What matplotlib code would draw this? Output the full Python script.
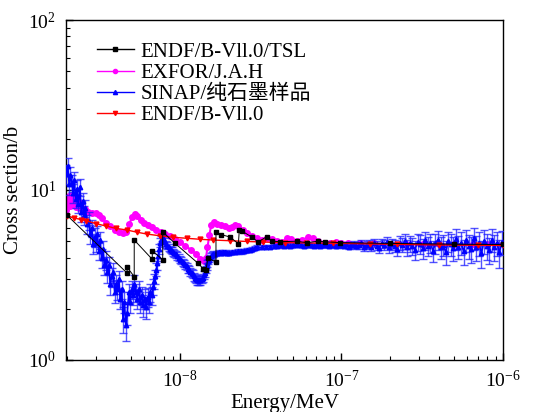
import matplotlib
matplotlib.use("Agg")
import matplotlib.pyplot as plt
from matplotlib.lines import Line2D
from matplotlib.ticker import LogLocator, NullFormatter

plt.rcParams['font.family'] = ['Liberation Serif', 'Noto Sans CJK SC', 'DejaVu Sans']
plt.rcParams['mathtext.fontset'] = 'stix'

# ---------------- data ----------------
labels = ['ENDF/B-Vll.0/TSL', 'EXFOR/J.A.H', 'SINAP/纯石墨样品', 'ENDF/B-Vll.0']

# ENDF/B-VII.0 with TSL (black sawtooth)
tsl_E = [2.0e-9, 4.70e-9, 4.72e-9, 5.21e-9, 5.21e-9, 6.74e-9, 6.74e-9, 7.82e-9, 7.82e-9,
         9.31e-9, 1.297e-8, 1.393e-8, 1.449e-8, 1.49e-8, 1.671e-8, 1.671e-8, 1.795e-8,
         2.04e-8, 2.30e-8, 2.33e-8, 2.41e-8, 2.78e-8, 3.05e-8, 3.44e-8, 3.70e-8, 4.16e-8,
         5.28e-8, 6.09e-8, 7.18e-8, 7.9e-8, 9.8e-8, 2.0e-7, 5.0e-7, 1.0e-6]
tsl_s = [7.1, 3.25, 3.51, 3.09, 5.08, 3.91, 4.40, 3.88, 5.66,
         4.86, 3.70, 3.44, 3.38, 3.98, 3.77, 5.66, 5.47,
         5.29, 4.83, 5.79, 5.75, 5.29, 4.95, 5.31, 5.01, 4.96,
         5.0, 4.90, 5.0, 4.96, 4.90, 4.85, 4.80, 4.78]

# EXFOR / J.A.H (magenta)
exfor_E = [1.97e-9, 2.02e-9, 2.06e-9, 2.10e-9, 2.14e-9, 2.18e-9, 2.22e-9, 2.27e-9, 2.32e-9,
           2.37e-9, 2.43e-9, 2.5e-9, 2.58e-9, 2.7e-9, 2.85e-9, 3.0e-9, 3.15e-9, 3.3e-9,
           3.5e-9, 3.7e-9, 3.95e-9, 4.2e-9, 4.45e-9, 4.65e-9, 4.85e-9, 5.05e-9, 5.25e-9,
           5.45e-9, 5.7e-9, 6.0e-9, 6.3e-9, 6.7e-9, 7.1e-9, 7.6e-9, 8.1e-9, 8.7e-9, 9.3e-9,
           1.0e-8, 1.08e-8, 1.17e-8, 1.26e-8, 1.34e-8, 1.4e-8, 1.45e-8, 1.48e-8, 1.52e-8,
           1.56e-8, 1.62e-8, 1.7e-8, 1.8e-8, 1.9e-8, 2.0e-8, 2.1e-8, 2.2e-8, 2.3e-8, 2.45e-8,
           2.6e-8, 2.8e-8, 3.0e-8, 3.2e-8, 3.45e-8, 3.7e-8, 4.0e-8, 4.3e-8, 4.6e-8, 4.9e-8,
           5.3e-8, 5.7e-8, 6.2e-8, 6.7e-8, 7.2e-8, 7.8e-8, 8.5e-8, 9.2e-8, 1.0e-7, 1.1e-7,
           1.3e-7, 1.6e-7, 2.0e-7, 2.5e-7, 3.2e-7, 4.0e-7, 5.0e-7, 6.5e-7, 8.0e-7, 1.0e-6]
exfor_s = [7.6, 8.6, 9.2, 8.0, 9.3, 8.2, 8.9, 7.9, 8.7,
           7.8, 8.4, 7.6, 7.7, 7.4, 7.3, 7.35, 7.1, 6.8,
           6.4, 6.1, 5.85, 5.7, 5.55, 5.7, 6.3, 6.9, 7.25,
           7.0, 6.7, 6.4, 6.2, 6.05, 5.85, 5.65, 5.5, 5.35, 5.15,
           4.95, 4.7, 4.45, 4.2, 3.95, 3.8, 4.0, 4.6, 5.4,
           6.2, 6.5, 6.3, 6.2, 6.1, 6.0, 6.05, 6.2, 6.1, 5.85,
           5.6, 5.35, 5.2, 5.1, 5.2, 5.15, 5.0, 4.95, 5.2, 5.15,
           5.0, 5.05, 5.3, 5.2, 5.0, 4.9, 4.85, 4.95, 4.9, 4.9,
           4.85, 4.85, 4.8, 4.8, 4.8, 4.78, 4.78, 4.78, 4.8, 4.8]

# SINAP pure graphite sample (blue, with error bars)
sinap_E = [
    # low-energy noisy region
    1.98e-9, 2.02e-9, 2.06e-9, 2.10e-9, 2.14e-9, 2.18e-9, 2.22e-9, 2.26e-9, 2.30e-9, 2.35e-9,
    2.40e-9, 2.45e-9, 2.50e-9, 2.55e-9, 2.60e-9, 2.66e-9, 2.72e-9, 2.78e-9, 2.84e-9, 2.90e-9,
    2.96e-9,
    3.02e-9, 3.08e-9, 3.14e-9, 3.20e-9, 3.27e-9, 3.34e-9, 3.41e-9, 3.48e-9, 3.55e-9, 3.62e-9,
    3.70e-9, 3.78e-9, 3.86e-9, 3.94e-9, 4.02e-9, 4.10e-9, 4.18e-9, 4.26e-9, 4.35e-9, 4.44e-9,
    4.53e-9, 4.62e-9, 4.72e-9, 4.82e-9, 4.92e-9, 5.02e-9, 5.12e-9, 5.23e-9, 5.34e-9, 5.45e-9,
    5.56e-9, 5.68e-9, 5.80e-9, 5.92e-9, 6.04e-9, 6.17e-9, 6.30e-9, 6.43e-9, 6.57e-9, 6.71e-9,
    6.85e-9,
    # Bragg-edge region
    6.95e-9, 7.05e-9, 7.15e-9, 7.25e-9, 7.35e-9, 7.45e-9, 7.55e-9, 7.65e-9, 7.75e-9, 7.85e-9,
    7.95e-9, 8.05e-9, 8.2e-9, 8.35e-9, 8.5e-9, 8.65e-9, 8.8e-9, 8.95e-9, 9.1e-9, 9.25e-9,
    9.4e-9, 9.6e-9, 9.8e-9, 1.00e-8, 1.02e-8, 1.04e-8, 1.06e-8, 1.08e-8, 1.10e-8, 1.12e-8,
    1.14e-8, 1.16e-8, 1.18e-8, 1.20e-8, 1.22e-8, 1.24e-8, 1.26e-8, 1.28e-8, 1.30e-8, 1.32e-8,
    1.34e-8, 1.36e-8, 1.38e-8, 1.40e-8, 1.42e-8, 1.44e-8, 1.46e-8, 1.48e-8, 1.50e-8, 1.52e-8,
    1.54e-8, 1.56e-8, 1.58e-8, 1.60e-8,
    # plateau
    1.65e-8, 1.70e-8, 1.75e-8, 1.80e-8, 1.85e-8, 1.90e-8, 1.95e-8, 2.0e-8, 2.1e-8, 2.2e-8,
    2.3e-8, 2.4e-8, 2.5e-8, 2.6e-8, 2.7e-8, 2.8e-8, 2.9e-8, 3.0e-8, 3.2e-8, 3.4e-8,
    3.6e-8, 3.8e-8, 4.0e-8, 4.2e-8, 4.4e-8, 4.6e-8, 4.8e-8, 5.0e-8, 5.3e-8, 5.6e-8,
    5.9e-8, 6.2e-8, 6.5e-8, 6.8e-8, 7.1e-8, 7.4e-8, 7.7e-8, 8.0e-8, 8.4e-8, 8.8e-8,
    9.2e-8, 9.6e-8, 1.0e-7,
    # high-energy noisy region
    1.03e-7, 1.07e-7, 1.11e-7, 1.15e-7, 1.19e-7, 1.23e-7, 1.28e-7, 1.33e-7, 1.38e-7, 1.43e-7,
    1.48e-7, 1.53e-7, 1.59e-7, 1.65e-7, 1.71e-7, 1.77e-7, 1.84e-7, 1.91e-7, 1.98e-7, 2.05e-7,
    2.13e-7, 2.21e-7, 2.29e-7, 2.37e-7, 2.46e-7, 2.55e-7, 2.65e-7, 2.75e-7, 2.85e-7, 2.96e-7,
    3.07e-7, 3.18e-7, 3.30e-7, 3.42e-7, 3.55e-7, 3.68e-7, 3.82e-7, 3.96e-7, 4.11e-7, 4.26e-7,
    4.42e-7, 4.58e-7, 4.75e-7, 4.93e-7, 5.11e-7, 5.30e-7, 5.50e-7, 5.70e-7, 5.91e-7, 6.13e-7,
    6.36e-7, 6.60e-7, 6.84e-7, 7.10e-7, 7.36e-7, 7.63e-7, 7.92e-7, 8.21e-7, 8.52e-7, 8.83e-7,
    9.16e-7, 9.50e-7, 9.85e-7]
sinap_s = [
    12.5, 13.8, 10.8, 12.2, 11.0, 9.6, 11.4, 8.9, 10.2, 8.3,
    10.4, 7.4, 8.6, 7.1, 7.8, 6.3, 6.6, 5.5, 6.0, 4.8,
    5.3,
    4.9, 5.5, 4.4, 5.1, 4.0, 4.5, 3.6, 3.9, 3.3, 3.6,
    2.8, 3.1, 3.3, 2.5, 2.8, 2.6, 3.0, 2.3, 2.6, 1.75,
    2.2, 1.6, 1.9, 2.5, 2.2, 2.6, 2.4, 2.8, 2.5, 2.3,
    2.6, 2.2, 2.4, 2.1, 2.3, 2.05, 2.35, 2.2, 2.5, 2.4,
    2.7,
    2.9, 3.1, 3.4, 3.7, 4.1, 4.5, 4.9, 5.1, 5.25, 5.2,
    5.1, 4.95, 4.8, 4.7, 4.6, 4.5, 4.45, 4.4, 4.3, 4.25,
    4.2, 4.1, 4.0, 3.9, 3.85, 3.75, 3.7, 3.6, 3.55, 3.45,
    3.4, 3.3, 3.25, 3.2, 3.1, 3.05, 3.0, 2.95, 2.95, 2.95,
    2.95, 3.0, 3.05, 3.15, 3.25, 3.4, 3.55, 3.7, 3.8, 3.9,
    4.0, 4.1, 4.15, 4.2,
    4.2, 4.25, 4.3, 4.25, 4.3, 4.3, 4.25, 4.25, 4.3, 4.3,
    4.35, 4.35, 4.4, 4.45, 4.45, 4.5, 4.55, 4.6, 4.6, 4.65,
    4.65, 4.7, 4.7, 4.75, 4.7, 4.75, 4.7, 4.75, 4.72, 4.75,
    4.7, 4.72, 4.75, 4.7, 4.72, 4.7, 4.75, 4.72, 4.7, 4.75,
    4.7, 4.72, 4.75,
    4.7, 4.78, 4.65, 4.75, 4.8, 4.68, 4.72, 4.85, 4.6, 4.75,
    4.82, 4.62, 4.9, 4.7, 4.55, 4.85, 4.75, 4.95, 4.6, 4.8,
    4.7, 4.5, 4.9, 4.75, 5.0, 4.6, 4.85, 4.7, 4.45, 4.95,
    4.8, 4.55, 5.05, 4.7, 4.9, 4.4, 4.85, 5.1, 4.6, 4.75,
    4.3, 5.0, 4.8, 4.55, 5.15, 4.65, 4.9, 4.35, 5.05, 4.7,
    4.5, 5.2, 4.6, 4.85, 4.25, 5.0, 4.7, 4.45, 5.1, 4.6,
    4.9, 4.3, 4.95]
sinap_err = [
    1.6, 1.7, 1.4, 1.5, 1.3, 1.2, 1.4, 1.1, 1.3, 1.0,
    1.2, 0.9, 1.0, 0.9, 0.9, 0.8, 0.8, 0.7, 0.7, 0.6,
    0.7,
    0.6, 0.6, 0.5, 0.6, 0.5, 0.5, 0.45, 0.5, 0.45, 0.45,
    0.4, 0.4, 0.4, 0.35, 0.35, 0.35, 0.35, 0.3, 0.3, 0.3,
    0.3, 0.3, 0.3, 0.3, 0.3, 0.3, 0.3, 0.35, 0.3, 0.3,
    0.3, 0.3, 0.3, 0.3, 0.3, 0.3, 0.3, 0.3, 0.3, 0.3,
    0.3,
    0.3, 0.3, 0.3, 0.3, 0.3, 0.3, 0.3, 0.25, 0.25, 0.25,
    0.25, 0.25, 0.22, 0.22, 0.22, 0.2, 0.2, 0.2, 0.2, 0.2,
    0.2, 0.2, 0.2, 0.18, 0.18, 0.18, 0.18, 0.18, 0.18, 0.18,
    0.17, 0.17, 0.17, 0.17, 0.17, 0.17, 0.17, 0.17, 0.17, 0.17,
    0.17, 0.17, 0.17, 0.17, 0.17, 0.17, 0.17, 0.17, 0.15, 0.15,
    0.15, 0.15, 0.15, 0.15,
    0.13, 0.13, 0.13, 0.13, 0.13, 0.13, 0.13, 0.13, 0.12, 0.12,
    0.12, 0.12, 0.12, 0.12, 0.12, 0.12, 0.12, 0.12, 0.12, 0.12,
    0.12, 0.12, 0.12, 0.12, 0.12, 0.12, 0.12, 0.12, 0.12, 0.12,
    0.12, 0.12, 0.12, 0.12, 0.12, 0.13, 0.13, 0.13, 0.13, 0.14,
    0.14, 0.14, 0.15,
    0.15, 0.16, 0.17, 0.18, 0.19, 0.2, 0.21, 0.22, 0.23, 0.24,
    0.25, 0.26, 0.27, 0.28, 0.29, 0.3, 0.32, 0.34, 0.36, 0.38,
    0.4, 0.42, 0.44, 0.46, 0.48, 0.5, 0.52, 0.54, 0.56, 0.58,
    0.6, 0.6, 0.62, 0.62, 0.64, 0.64, 0.66, 0.66, 0.68, 0.68,
    0.7, 0.7, 0.7, 0.72, 0.72, 0.72, 0.74, 0.74, 0.74, 0.76,
    0.76, 0.76, 0.78, 0.78, 0.78, 0.8, 0.8, 0.8, 0.8, 0.8,
    0.8, 0.8, 0.8]

# ENDF/B-VII.0 free gas (red)
endf_E = [1.99e-9, 2.2e-9, 2.45e-9, 2.62e-9, 3.0e-9, 3.48e-9, 4.0e-9, 4.68e-9, 5.4e-9,
          6.22e-9, 7.5e-9, 9.1e-9, 1.1e-8, 1.33e-8, 1.6e-8, 2.04e-8, 2.6e-8, 3.28e-8,
          4.5e-8, 6.0e-8, 8.9e-8, 1.5e-7, 2.2e-7, 4.0e-7, 7.0e-7, 1.0e-6]
endf_s = [7.03, 6.85, 6.7, 6.6, 6.35, 6.14, 5.95, 5.82, 5.65,
          5.51, 5.38, 5.27, 5.2, 5.13, 5.08, 5.03, 4.98, 4.94,
          4.9, 4.88, 4.86, 4.82, 4.79, 4.75, 4.73, 4.72]

# ---------------- plot ----------------
fig = plt.figure(figsize=(5.42, 4.12), dpi=100)
ax = fig.add_axes([66 / 542, 1 - 360 / 412, 437 / 542, 340 / 412])

c_black, c_mag, c_blue, c_red = 'black', '#ff00ff', '#0000ff', '#ff0000'

ax.plot(exfor_E, exfor_s, '-o', color=c_mag, lw=1.5, ms=4.0, zorder=2)
ax.errorbar(sinap_E, sinap_s, yerr=sinap_err, fmt='-^', color=c_blue, lw=1.2, ms=3.2,
            ecolor=(0.1, 0.1, 1.0, 0.75), elinewidth=1.0, capsize=3.2, capthick=1.0, zorder=3)
ax.plot(endf_E, endf_s, '-v', color=c_red, lw=1.0, ms=3.5, zorder=4)
ax.plot(tsl_E, tsl_s, '-s', color=c_black, lw=0.7, ms=3.0, zorder=5)

ax.set_xscale('log')
ax.set_yscale('log')
ax.set_xlim(1.97e-9, 1e-6)
ax.set_ylim(1, 100)

ax.xaxis.set_major_locator(LogLocator(base=10, numticks=10))
ax.xaxis.set_minor_locator(LogLocator(base=10, subs=range(2, 10), numticks=20))
ax.xaxis.set_minor_formatter(NullFormatter())
ax.yaxis.set_minor_formatter(NullFormatter())
ax.tick_params(which='both', direction='in', top=False, right=False, labelsize=14)
ax.tick_params(which='major', length=5, width=1, pad=7)
ax.tick_params(which='minor', length=3, width=0.8)
for sp in ax.spines.values():
    sp.set_linewidth(1.0)

ax.set_xlabel('Energy/MeV', fontsize=15, labelpad=2)
ax.set_ylabel('Cross section/b', fontsize=15, labelpad=4)

handles = [
    Line2D([], [], color=c_black, marker='s', ms=3, lw=1.0),
    Line2D([], [], color=c_mag, marker='o', ms=3, lw=1.0),
    Line2D([], [], color=c_blue, marker='^', ms=3, lw=1.0),
    Line2D([], [], color=c_red, marker='v', ms=3, lw=1.0),
]
ax.legend(handles, labels, loc='upper left', bbox_to_anchor=(0.07, 0.935), frameon=False,
          fontsize=15, borderaxespad=0, borderpad=0, handlelength=1.8,
          handletextpad=0.3, labelspacing=0.08, numpoints=1)

fig.savefig('out.png', dpi=100)
